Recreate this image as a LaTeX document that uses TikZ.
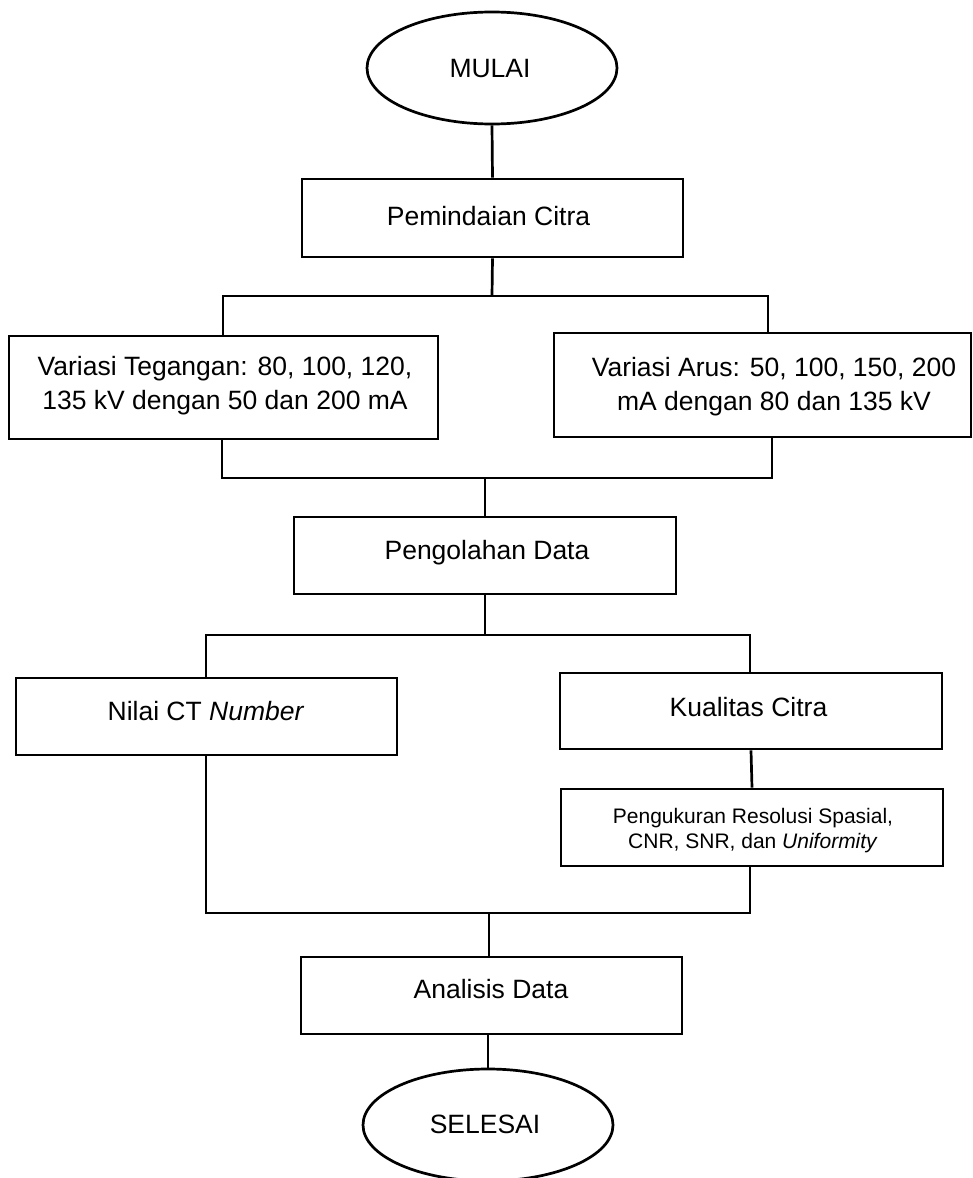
\documentclass[tikz,border=0pt]{standalone}
\usepackage{fontspec}
\setmainfont{Liberation Sans}
\usetikzlibrary{shapes.geometric}
\begin{document}
\begin{tikzpicture}[x=1pt,y=-1pt,
  box/.style={draw, line width=2.7pt, rectangle, inner sep=0pt},
  term/.style={draw, line width=2.7pt, ellipse, inner sep=0pt, minimum width=250pt, minimum height=112pt},
  txt/.style={font=\fontsize{26.5}{33.7}\selectfont, align=center, inner sep=0pt},
  stxt/.style={font=\fontsize{21}{25}\selectfont, align=center, inner sep=0pt},
  conn/.style={line width=2.7pt}]
\useasboundingbox (0,0) rectangle (973,1178);

% shapes
\node[term] (mulai) at (492,68) {};
\node[box, minimum width=381pt, minimum height=78pt] (pem) at (492.5,218) {};
\node[box, minimum width=429pt, minimum height=103pt] (vl) at (223.5,387.5) {};
\node[box, minimum width=417pt, minimum height=104pt] (vr) at (762.5,385) {};
\node[box, minimum width=382pt, minimum height=77pt] (peng) at (485,555.5) {};
\node[box, minimum width=381pt, minimum height=77pt] (nilai) at (206.5,716.5) {};
\node[box, minimum width=382pt, minimum height=76pt] (kual) at (751,711) {};
\node[box, minimum width=382pt, minimum height=77pt] (ukur) at (752,827.5) {};
\node[box, minimum width=381pt, minimum height=77pt] (anal) at (491.5,995.5) {};
\node[term] (selesai) at (488,1125) {};

% texts
\node[txt, anchor=base] (mulai-t) at (490,77) {MULAI};
\node[txt, anchor=base] (pem-t) at (488.5,225) {Pemindaian Citra};
\node[txt] (vl-t) at (225,385.7) {Variasi Tegangan: 80, 100, 120,\\135 kV dengan 50 dan 200 mA};
\node[txt] (vr-t) at (774,386.7) {Variasi Arus: 50, 100, 150, 200\\mA dengan 80 dan 135 kV};
\node[txt, anchor=base] (peng-t) at (487,559.3) {Pengolahan Data};
\node[txt, anchor=base] (nilai-t) at (206,720) {Nilai CT \textit{Number}};
\node[txt, anchor=base] (kual-t) at (748.5,716) {Kualitas Citra};
\node[stxt] (ukur-t) at (753,831) {Pengukuran Resolusi Spasial,\\CNR, SNR, dan \textit{Uniformity}};
\node[txt, anchor=base] (anal-t) at (491,998.3) {Analisis Data};
\node[txt, anchor=base] (selesai-t) at (485,1133) {SELESAI};

% junction coordinates
\coordinate (j1) at (492,296);
\coordinate (j1l) at (223,296);
\coordinate (j1r) at (768,296);
\coordinate (j2) at (485,478);
\coordinate (j2l) at (222,478);
\coordinate (j2r) at (772,478);
\coordinate (j3) at (485,635);
\coordinate (j3l) at (206,635);
\coordinate (j3r) at (750,635);
\coordinate (j4) at (489,913);
\coordinate (j4l) at (206,913);
\coordinate (j4r) at (750,913);

% connectors
\draw[conn] (mulai.south) -- (pem.north);
\draw[conn] (pem.south) -- (j1);
\draw[conn] (vl.north -| j1l) |- (j1r) -- (j1r |- vr.north);
\draw[conn] (vl.south -| j2l) |- (j2r) -- (j2r |- vr.south);
\draw[conn] (j2) -- (peng.north);
\draw[conn] (peng.south) -- (j3);
\draw[conn] (nilai.north -| j3l) |- (j3r) -- (j3r |- kual.north);
\draw[conn] (kual.south) -- (ukur.north);
\draw[conn] (nilai.south -| j4l) |- (j4r) -- (j4r |- ukur.south);
\draw[conn] (j4) -- (j4 |- anal.north);
\draw[conn] (anal.south -| selesai.north) -- (selesai.north);
\end{tikzpicture}
\end{document}
